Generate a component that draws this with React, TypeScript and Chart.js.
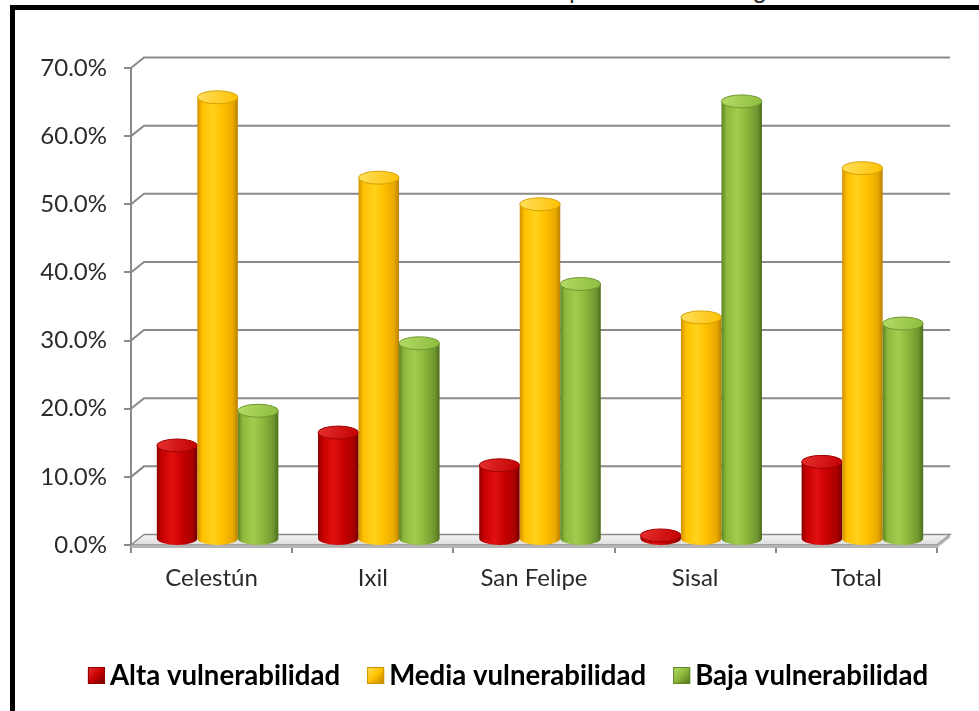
import { useEffect, useRef } from "react";
import { Chart, registerables } from "chart.js";

Chart.register(...registerables);

// Datos: porcentaje de hogares por nivel de vulnerabilidad de capital humano
const localidades = ["Celestún", "Ixil", "San Felipe", "Sisal", "Total"];
const altaVulnerabilidad = [14.6, 16.5, 11.7, 1.4, 12.2];
const mediaVulnerabilidad = [65.7, 53.9, 50.0, 33.4, 55.3];
const bajaVulnerabilidad = [19.7, 29.6, 38.3, 65.1, 32.5];
const nombresSeries = ["Alta vulnerabilidad", "Media vulnerabilidad", "Baja vulnerabilidad"];
const ejeMinimo = 0;
const ejeMaximo = 70;
const ejePaso = 10;
const titulo = "Gráfica 3. Índice de vulnerabilidad de capital humano según localidad";

// Geometría de la vista en perspectiva
const W = 979;
const H = 711;
const AREA = { left: 131, top: 68, right: 937, bottom: 545 };
const PROF_X = 13; // desplazamiento de la pared del fondo
const PROF_Y = 10.5;
const CIL_X = 6; // desplazamiento de los cilindros (a media profundidad)
const CIL_BASE = 5.5;
const CIL_RY = 6.5;
const LEYENDA_CX = 508;
const LEYENDA_BASE = 685;
const GRIS = "#8a8a8a";
const TEXTO_EJE = "#2b2b2b";

type Paleta = {
  edgeL: string; mid: string; light: string; dark: string; edgeR: string;
  topL: string; topR: string; topStroke: string;
};

const paletas: Paleta[] = [
  { edgeL: "#8c0000", mid: "#c80000", light: "#e01010", dark: "#a80000", edgeR: "#700000",
    topL: "#e83030", topR: "#c00000", topStroke: "#a00000" },
  { edgeL: "#d09000", mid: "#ffc000", light: "#ffd21a", dark: "#e8a800", edgeR: "#b88000",
    topL: "#ffe060", topR: "#ffc000", topStroke: "#d8a000" },
  { edgeL: "#5d8420", mid: "#8cb83c", light: "#a2cc4e", dark: "#6f9530", edgeR: "#4e6e1c",
    topL: "#b4dc66", topR: "#8cbc40", topStroke: "#6e9830" },
];

function dibujarCilindro(ctx: CanvasRenderingContext2D, cx: number, topY: number,
  bottomY: number, r: number, p: Paleta) {
  const g = ctx.createLinearGradient(cx - r, 0, cx + r, 0);
  g.addColorStop(0, p.edgeL);
  g.addColorStop(0.12, p.mid);
  g.addColorStop(0.38, p.light);
  g.addColorStop(0.62, p.mid);
  g.addColorStop(0.88, p.dark);
  g.addColorStop(1, p.edgeR);
  ctx.fillStyle = g;
  ctx.beginPath();
  ctx.moveTo(cx - r, topY);
  ctx.lineTo(cx - r, bottomY);
  ctx.ellipse(cx, bottomY, r, CIL_RY, 0, Math.PI, 0, true);
  ctx.lineTo(cx + r, topY);
  ctx.closePath();
  ctx.fill();

  const gt = ctx.createLinearGradient(cx - r, topY - CIL_RY, cx + r, topY + CIL_RY);
  gt.addColorStop(0, p.topL);
  gt.addColorStop(1, p.topR);
  ctx.fillStyle = gt;
  ctx.beginPath();
  ctx.ellipse(cx, topY, r, CIL_RY, 0, 0, Math.PI * 2);
  ctx.fill();
  ctx.strokeStyle = p.topStroke;
  ctx.lineWidth = 1;
  ctx.stroke();
}

// Paredes, piso, cilindros y leyenda
const paredesPlugin = {
  id: "paredes",
  beforeDatasetsDraw(chart: any) {
    const { ctx, chartArea } = chart;
    const y = chart.scales.y;
    const l = chartArea.left;
    const r = chartArea.right;
    const y0 = y.getPixelForValue(ejeMinimo);
    ctx.save();

    // piso
    const gp = ctx.createLinearGradient(l, y0 - PROF_Y, l, y0);
    gp.addColorStop(0, "#f4f4f4");
    gp.addColorStop(1, "#dcdcdc");
    ctx.fillStyle = gp;
    ctx.beginPath();
    ctx.moveTo(l, y0);
    ctx.lineTo(l + PROF_X, y0 - PROF_Y);
    ctx.lineTo(r + PROF_X, y0 - PROF_Y);
    ctx.lineTo(r, y0);
    ctx.closePath();
    ctx.fill();
    ctx.strokeStyle = GRIS;
    ctx.lineWidth = 1.5;
    ctx.stroke();
    ctx.fillStyle = "#b4b4b4";
    ctx.beginPath();
    ctx.moveTo(l, y0);
    ctx.lineTo(r, y0);
    ctx.lineTo(r + PROF_X, y0 - PROF_Y);
    ctx.lineTo(r + PROF_X, y0 - PROF_Y + 3);
    ctx.lineTo(r, y0 + 3);
    ctx.lineTo(l, y0 + 3);
    ctx.closePath();
    ctx.fill();

    // líneas de división
    ctx.strokeStyle = GRIS;
    ctx.lineWidth = 2;
    for (let v = ejeMinimo + ejePaso; v <= ejeMaximo; v += ejePaso) {
      const py = y.getPixelForValue(v);
      ctx.beginPath();
      ctx.moveTo(l, py);
      ctx.lineTo(l + PROF_X, py - PROF_Y);
      ctx.lineTo(r + PROF_X, py - PROF_Y);
      ctx.stroke();
    }
    ctx.restore();
  },
  afterDatasetsDraw(chart: any) {
    const { ctx } = chart;
    ctx.save();
    chart.data.datasets.forEach((_: any, i: number) => {
      const meta = chart.getDatasetMeta(i);
      meta.data.forEach((el: any) => {
        const r = el.width / 2;
        dibujarCilindro(ctx, el.x + CIL_X, el.y, el.base - CIL_BASE, r, paletas[i]);
      });
    });
    ctx.restore();
  },
  afterDraw(chart: any) {
    const { ctx } = chart;
    ctx.save();
    ctx.font = "bold 27.6px Lato";
    ctx.textBaseline = "alphabetic";
    const box = 17;
    const gapIn = 5;
    const gapOut = 27;
    const items = chart.data.datasets.map((ds: any, i: number) => ({
      label: ds.label as string,
      p: paletas[i],
      w: ctx.measureText(ds.label).width,
    }));
    const total = items.reduce((s: number, it: any) => s + box + gapIn + it.w, 0) + gapOut * (items.length - 1);
    let x = LEYENDA_CX - total / 2;
    const by = LEYENDA_BASE - 18;
    for (const it of items) {
      const g = ctx.createLinearGradient(x, by, x + box, by + box);
      g.addColorStop(0, it.p.topL);
      g.addColorStop(0.5, it.p.mid);
      g.addColorStop(1, it.p.edgeR);
      ctx.fillStyle = g;
      ctx.fillRect(x, by, box, box);
      ctx.strokeStyle = it.p.edgeL;
      ctx.lineWidth = 1;
      ctx.strokeRect(x + 0.5, by + 0.5, box - 1, box - 1);
      x += box + gapIn;
      ctx.fillStyle = "#000";
      ctx.fillText(it.label, x, LEYENDA_BASE);
      x += it.w + gapOut;
    }
    ctx.restore();
  },
};

export default function App() {
  const ref = useRef<HTMLCanvasElement | null>(null);

  useEffect(() => {
    let chart: Chart | null = null;
    let cancelado = false;
    const crear = () => {
      if (cancelado || !ref.current) return;
      const datos = [altaVulnerabilidad, mediaVulnerabilidad, bajaVulnerabilidad];
      chart = new Chart(ref.current, {
        type: "bar",
        data: {
          labels: localidades,
          datasets: datos.map((d, i) => ({
            label: nombresSeries[i],
            data: d,
            backgroundColor: "rgba(0,0,0,0)",
            borderWidth: 0,
            categoryPercentage: 0.754,
            barPercentage: 1,
          })),
        },
        options: {
          responsive: false,
          animation: false,
          layout: {
            padding: { left: 0, top: AREA.top, right: W - AREA.right, bottom: 0 },
          },
          plugins: {
            legend: { display: false },
            tooltip: { enabled: false },
            title: { display: false },
          },
          scales: {
            x: {
              afterFit: (s: any) => { s.height = H - AREA.bottom; },
              grid: {
                display: true,
                drawOnChartArea: false,
                drawTicks: true,
                tickLength: 8,
                offset: true,
                color: GRIS,
                lineWidth: 2,
              },
              border: { display: false },
              ticks: {
                color: TEXTO_EJE,
                font: { family: "Lato", size: 24 },
                padding: 11,
              },
            },
            y: {
              min: ejeMinimo,
              max: ejeMaximo,
              afterFit: (s: any) => { s.width = AREA.left; },
              grid: {
                drawOnChartArea: false,
                drawTicks: true,
                tickLength: 7,
                color: GRIS,
                lineWidth: 2,
              },
              border: { display: true, color: GRIS, width: 2 },
              ticks: {
                stepSize: ejePaso,
                color: TEXTO_EJE,
                font: { family: "Lato", size: 24 },
                padding: 17,
                callback: (v: any) => Number(v).toFixed(1) + "%",
              },
            },
          },
        },
        plugins: [paredesPlugin],
      });
    };
    const f: any = (document as any).fonts;
    if (f && f.load) {
      Promise.all([f.load("24px Lato"), f.load("bold 27.6px Lato")]).then(crear, crear);
    } else {
      crear();
    }
    return () => {
      cancelado = true;
      if (chart) chart.destroy();
    };
  }, []);

  return (
    <div style={{ position: "fixed", left: 0, top: 0, width: W, height: H, overflow: "hidden", background: "#fff" }}>
      <div style={{ position: "absolute", left: 0, top: 0, width: W, height: 5, overflow: "hidden" }}>
        <div style={{
          position: "absolute", left: 105, top: -24, whiteSpace: "nowrap",
          fontFamily: "'Liberation Sans', Arial, sans-serif", fontSize: 26, lineHeight: "26px", color: "#333",
        }}>{titulo}</div>
      </div>
      <div style={{
        position: "absolute", left: 10, top: 5, width: W + 40, height: H + 40,
        border: "5px solid #000", boxSizing: "border-box",
      }} />
      <canvas ref={ref} width={W} height={H} style={{ position: "absolute", left: 0, top: 0, width: W, height: H }} />
    </div>
  );
}
